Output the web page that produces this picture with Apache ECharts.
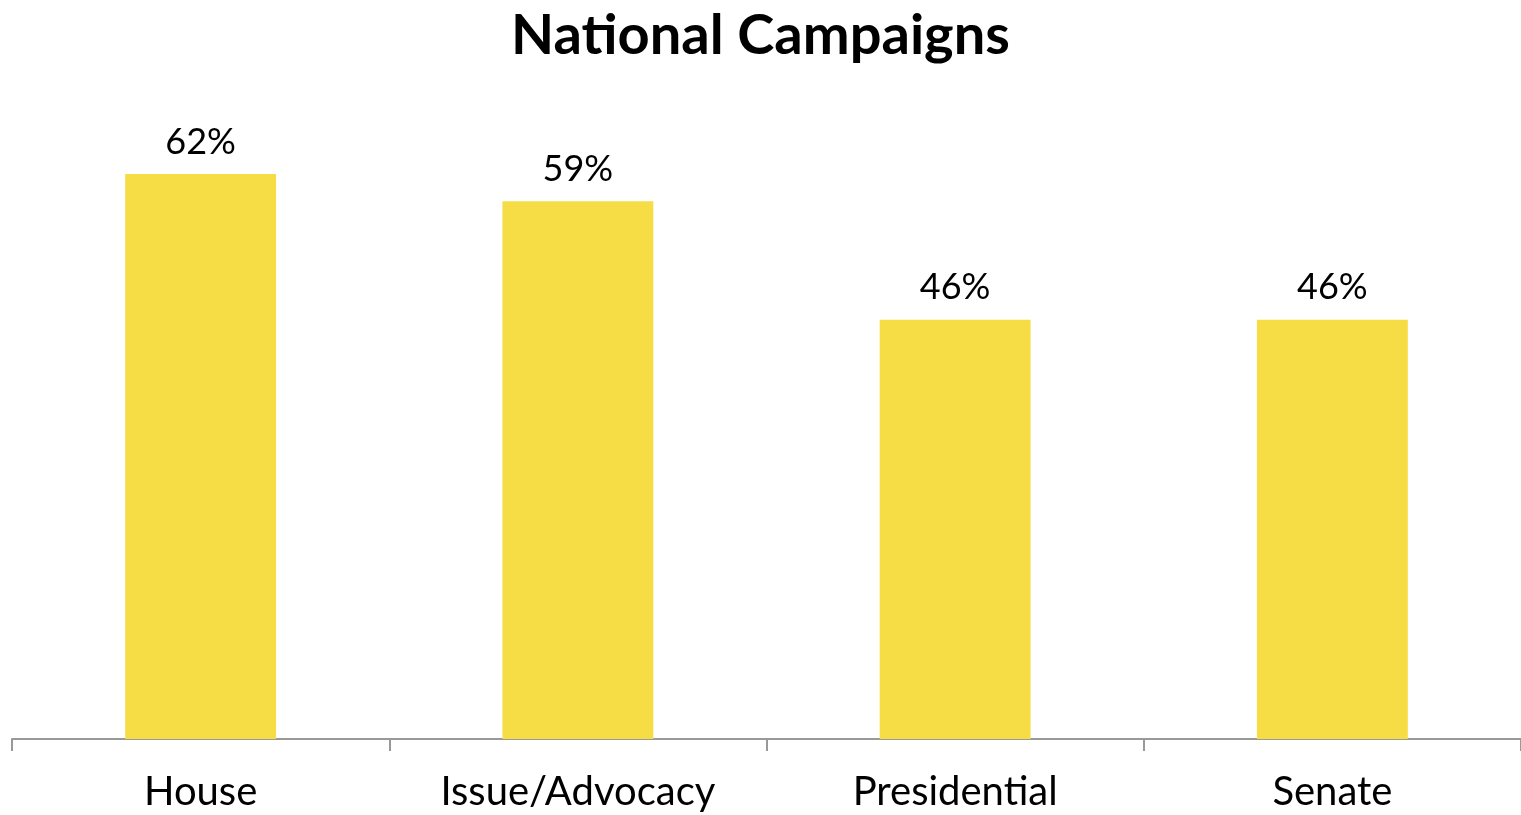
<!DOCTYPE html>
<html>
<head>
<meta charset="utf-8">
<script src="https://cdn.jsdelivr.net/npm/echarts@6/dist/echarts.min.js"></script>
<style>
  html, body { margin: 0; padding: 0; background: #fff; }
  #chart { width: 1521px; height: 815px; }
</style>
</head>
<body>
<div id="chart"></div>
<script>
// Share of campaigns by type (percent)
const categories = ['House', 'Issue/Advocacy', 'Presidential', 'Senate'];
const values = [62, 59, 46, 46];

const FONT = 'Lato, "Noto Sans", sans-serif';

const chart = echarts.init(document.getElementById('chart'));
chart.setOption({
  backgroundColor: '#ffffff',
  animation: false,
  title: {
    text: 'National Campaigns',
    left: 'center',
    top: 3,
    textStyle: { fontFamily: FONT, fontSize: 56, fontWeight: 'bold', color: '#000' }
  },
  grid: { left: 12, right: 0, top: 101, bottom: 76, containLabel: false },
  xAxis: {
    type: 'category',
    data: categories,
    axisLine: { lineStyle: { color: '#999', width: 2 } },
    axisTick: { show: true, length: 12, lineStyle: { color: '#999', width: 2 }, alignWithLabel: false },
    axisLabel: { fontFamily: FONT, fontSize: 40, color: '#000', margin: 33 }
  },
  yAxis: {
    type: 'value',
    min: 0,
    max: 70,
    show: false,
    splitLine: { show: false }
  },
  series: [{
    type: 'bar',
    data: values,
    barWidth: '40%',
    itemStyle: { color: '#F6DD45' },
    label: {
      show: true,
      position: 'top',
      distance: 14,
      formatter: '{c}%',
      fontFamily: FONT,
      fontSize: 36,
      color: '#000'
    }
  }]
});
</script>
</body>
</html>
